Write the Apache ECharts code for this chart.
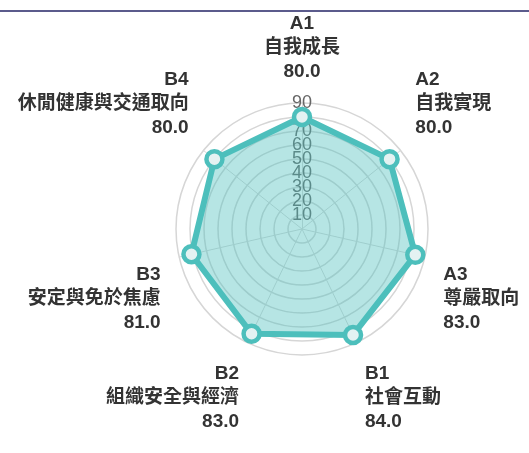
<!DOCTYPE html>
<html>
<head>
<meta charset="utf-8">
<script src="https://cdn.jsdelivr.net/npm/echarts@6/dist/echarts.min.js"></script>
<style>
  html, body { margin: 0; padding: 0; background: #fff; }
  #chart { width: 529px; height: 453px; }
</style>
</head>
<body>
<div id="chart"></div>
<script>
// indicators in echarts order (counter-clockwise from the top)
const codes = ['A1', 'B4', 'B3', 'B2', 'B1', 'A3', 'A2']
const labels = ['自我成長', '休閒健康與交通取向', '安定與免於焦慮', '組織安全與經濟', '社會互動', '尊嚴取向', '自我實現']
const scores = [80, 80, 81, 83, 84, 83, 80]
const axisMax = 90

// spacer line height to nudge each name block up (negative) / down (positive)
const shifts = [0, -70, 76, 76, 76, 76, -70]

const chart = echarts.init(document.getElementById('chart'))

const indicator = codes.map((c, i) => {
  const item = { name: c + '|' + i, max: axisMax, min: 0 }
  if (i === 0) item.axisLabel = { show: true } // ticks only on the top axis
  return item
})

const spRich = {}
shifts.forEach((s, i) => {
  spRich['sp' + i] = { fontSize: 10, lineHeight: Math.abs(s) || 1, height: Math.abs(s) || 1 }
})

const option = {
  graphic: [{
    type: 'rect',
    shape: { x: 0, y: 10, width: 529, height: 2 },
    style: { fill: '#5b5b8c' }
  }],
  radar: {
    center: [302, 229],
    radius: 126,
    shape: 'circle',
    splitNumber: 9,
    startAngle: 90,
    indicator: indicator,
    nameGap: 19,
    axisName: {
      formatter: function (name) {
        const i = +name.split('|')[1]
        const txt = '{t|' + codes[i] + '}\n{t|' + labels[i] + '}\n{t|' + scores[i].toFixed(1) + '}'
        const s = shifts[i]
        if (s > 0) return '{sp' + i + '| }\n' + txt
        if (s < 0) return txt + '\n{sp' + i + '| }'
        return txt
      },
      rich: Object.assign({
        t: { fontSize: 19, fontWeight: 'bold', color: '#333', lineHeight: 24, fontFamily: 'Arial, "Noto Sans CJK TC"' }
      }, spRich)
    },
    axisLabel: {
      show: false,
      showMinLabel: false,
      showMaxLabel: true,
      color: '#666',
      fontSize: 18,
      margin: 0,
      align: 'center'
    },
    axisLine: { lineStyle: { color: '#d8d8d8' } },
    splitLine: { lineStyle: { color: '#d6d6d6', width: 1.5 } },
    splitArea: { show: false }
  },
  series: [{
    type: 'radar',
    symbol: 'circle',
    symbolSize: 16,
    lineStyle: { color: '#4dbfbc', width: 6 },
    areaStyle: { color: 'rgba(77,191,188,0.58)' },
    itemStyle: { color: '#e4f2f2', borderColor: '#4dbfbc', borderWidth: 4.5 },
    data: [{ value: scores }]
  }]
}

chart.setOption(option)
</script>
</body>
</html>
